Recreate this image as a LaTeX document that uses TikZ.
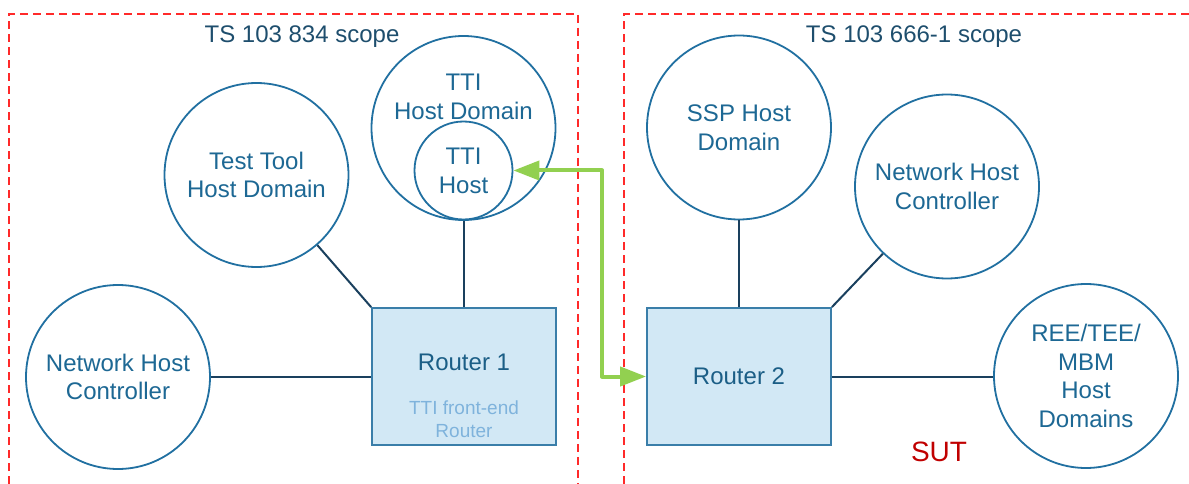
\documentclass[tikz,border=0pt]{standalone}
\usepackage{fontspec}
\setmainfont{Liberation Sans}
\usetikzlibrary{arrows.meta}
\definecolor{hostline}{HTML}{2170A1}
\definecolor{hosttext}{HTML}{1D6894}
\definecolor{scopetext}{HTML}{1E4E6D}
\definecolor{linkline}{HTML}{1A405E}
\definecolor{routerfill}{HTML}{D2E8F5}
\definecolor{routerline}{HTML}{3A7EA9}
\definecolor{routertext}{HTML}{1B5E86}
\definecolor{subtext}{HTML}{7FB3DC}
\definecolor{scopered}{HTML}{FF2A2A}
\definecolor{sutred}{HTML}{C00000}
\definecolor{tunnel}{HTML}{92D050}
\tikzset{
  x=1pt, y=-1pt,
  bigfont/.style={font=\fontsize{24}{28.8}\selectfont},
  host/.style={circle, draw=hostline, line width=1.8pt, fill=white,
    minimum size=184pt, inner sep=0pt, align=center, text=hosttext, bigfont},
  router/.style={rectangle, draw=routerline, line width=1.8pt, fill=routerfill,
    minimum width=184pt, minimum height=137pt, inner sep=0pt},
  link/.style={draw=linkline, line width=2pt},
  scopebox/.style={draw=scopered, line width=1.3pt, dash pattern=on 8pt off 5pt},
  scopelabel/.style={text=scopetext, bigfont, inner sep=0pt},
  tunnelarrow/.style={draw=tunnel, line width=4pt, line join=round,
    {Triangle[length=26pt,width=19pt]}-{Triangle[length=26pt,width=19pt]}}
}
\begin{document}
\begin{tikzpicture}
\useasboundingbox (0,0) rectangle (1189,484);

% scope frames
\draw[scopebox] (9,484) -- (9,14) -- (578,14) -- (578,484);
\draw[scopebox] (624,484) -- (624,14) -- (1189,14);
\node[scopelabel] (scope834) at (302,37) {TS 103 834 scope};
\node[scopelabel] (scope666) at (914,37) {TS 103 666-1 scope};

% routers
\node[router] (r1) at (464,376.5) {};
\node[text=routertext, bigfont, inner sep=0pt] (r1label) at (464,362) {Router 1};
\node[text=subtext, align=center, inner sep=0pt,
      font=\fontsize{19}{23.5}\selectfont] (r1sub) at (464,419) {TTI front-end\\Router};
\node[router, text=routertext, bigfont] (r2) at (739,376.5) {Router 2};

% host domains
\node[host] (nhcL) at (118,377) {Network Host\\Controller};
\node[host] (ttool) at (256.5,175) {Test Tool\\Host Domain};
\node[host] (ttidom) at (463.5,128) {};
\node[text=hosttext, bigfont, align=center, inner sep=0pt] (ttidomlabel) at (463.5,96.5) {TTI\\Host Domain};
\node[host, minimum size=98pt] (ttihost) at (463.5,170.5) {TTI\\Host};
\node[host] (ssp) at (739,127.5) {SSP Host\\Domain};
\node[host] (nhcR) at (947,186.5) {Network Host\\Controller};
\node[host] (ree) at (1086,376) {REE/TEE/\\MBM\\Host\\Domains};

% links
\draw[link] (nhcL.east) -- (nhcL.east -| r1.west);
\draw[link] (ttool) -- (r1.north west);
\draw[link] (ttidom.south) -- (ttidom.south |- r1.north);
\draw[link] (ssp.south) -- (ssp.south |- r2.north);
\draw[link] (nhcR) -- (r2.north east);
\draw[link] (r2.east) -- (r2.east -| ree.west);

% test interface path
\coordinate (bend) at (602,0);
\draw[tunnelarrow] (ttihost.east) -- (ttihost.east -| bend) -- (bend |- r2.west) -- (r2.west);

\node[text=sutred, font=\fontsize{28}{33}\selectfont, inner sep=0pt] (sut) at (939,452) {SUT};
\end{tikzpicture}
\end{document}
